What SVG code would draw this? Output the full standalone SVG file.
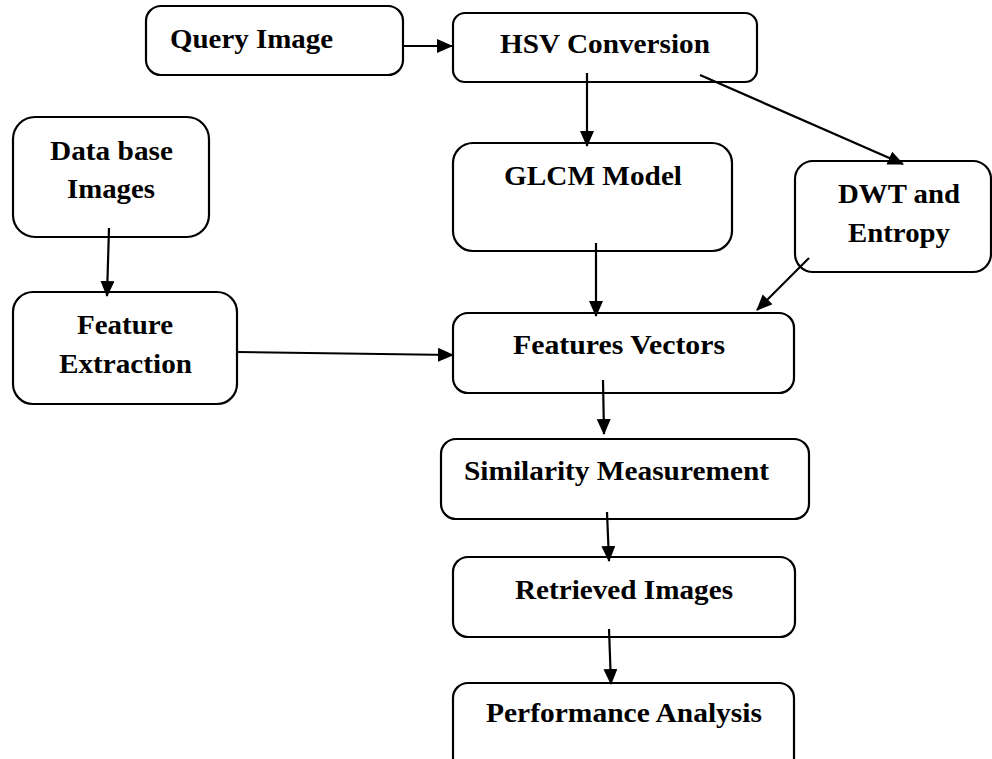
<svg xmlns="http://www.w3.org/2000/svg" width="992" height="759" viewBox="0 0 992 759">
<style>
.box{fill:#fff;stroke:#000;stroke-width:2.2}
.lbl{font-family:"Liberation Serif","Times New Roman",serif;font-weight:bold;font-size:28px;fill:#000}
.edge{stroke:#000;stroke-width:2.2;fill:none;marker-end:url(#ah)}
</style>
<defs>
<marker id="ah" markerUnits="userSpaceOnUse" markerWidth="17" markerHeight="15" refX="15" refY="7" orient="auto">
<path d="M0,0 L16,7 L0,14 Z" fill="#000"/>
</marker>
</defs>
<rect width="992" height="759" fill="#fff"/>
<g id="query">
<rect class="box" x="146" y="6" width="257" height="69" rx="15"/>
<text class="lbl" x="170" y="48" textLength="163" lengthAdjust="spacingAndGlyphs">Query Image</text>
</g>
<g id="hsv">
<rect class="box" x="453" y="13" width="304" height="69" rx="12"/>
<text class="lbl" x="500" y="53" textLength="210" lengthAdjust="spacingAndGlyphs">HSV Conversion</text>
</g>
<g id="database">
<rect class="box" x="13" y="117" width="196" height="120" rx="22"/>
<text class="lbl" x="50" y="160" textLength="123" lengthAdjust="spacingAndGlyphs">Data base</text>
<text class="lbl" x="67" y="198" textLength="88" lengthAdjust="spacingAndGlyphs">Images</text>
</g>
<g id="glcm">
<rect class="box" x="453" y="143" width="279" height="108" rx="20"/>
<text class="lbl" x="504" y="185" textLength="178" lengthAdjust="spacingAndGlyphs">GLCM Model</text>
</g>
<g id="dwt">
<rect class="box" x="795" y="161" width="196" height="111" rx="18"/>
<text class="lbl" x="838" y="203" textLength="122" lengthAdjust="spacingAndGlyphs">DWT and</text>
<text class="lbl" x="848" y="242" textLength="102" lengthAdjust="spacingAndGlyphs">Entropy</text>
</g>
<g id="feature-extraction">
<rect class="box" x="13" y="292" width="224" height="112" rx="20"/>
<text class="lbl" x="77" y="334" textLength="96" lengthAdjust="spacingAndGlyphs">Feature</text>
<text class="lbl" x="59" y="373" textLength="133" lengthAdjust="spacingAndGlyphs">Extraction</text>
</g>
<g id="features-vectors">
<rect class="box" x="453" y="313" width="341" height="80" rx="15"/>
<text class="lbl" x="513" y="354" textLength="212" lengthAdjust="spacingAndGlyphs">Features Vectors</text>
</g>
<g id="similarity">
<rect class="box" x="441" y="439" width="368" height="80" rx="15"/>
<text class="lbl" x="464" y="480" textLength="305" lengthAdjust="spacingAndGlyphs">Similarity Measurement</text>
</g>
<g id="retrieved">
<rect class="box" x="453" y="557" width="342" height="80" rx="15"/>
<text class="lbl" x="515" y="599" textLength="218" lengthAdjust="spacingAndGlyphs">Retrieved Images</text>
</g>
<g id="performance">
<rect class="box" x="453" y="683" width="341" height="95" rx="15"/>
<text class="lbl" x="486" y="722" textLength="276" lengthAdjust="spacingAndGlyphs">Performance Analysis</text>
</g>
<g id="connectors">
<line class="edge" x1="403" y1="46" x2="452" y2="46"/>
<line class="edge" x1="587" y1="73" x2="587" y2="146"/>
<line class="edge" x1="700" y1="75" x2="903" y2="164"/>
<line class="edge" x1="109" y1="228" x2="107" y2="296"/>
<line class="edge" x1="596" y1="243" x2="596" y2="316"/>
<line class="edge" x1="809" y1="258" x2="757" y2="310"/>
<line class="edge" x1="237" y1="352" x2="453" y2="355"/>
<line class="edge" x1="603" y1="380" x2="604" y2="434"/>
<line class="edge" x1="607" y1="512" x2="609" y2="561"/>
<line class="edge" x1="609" y1="629" x2="611" y2="684"/>
</g>
</svg>
